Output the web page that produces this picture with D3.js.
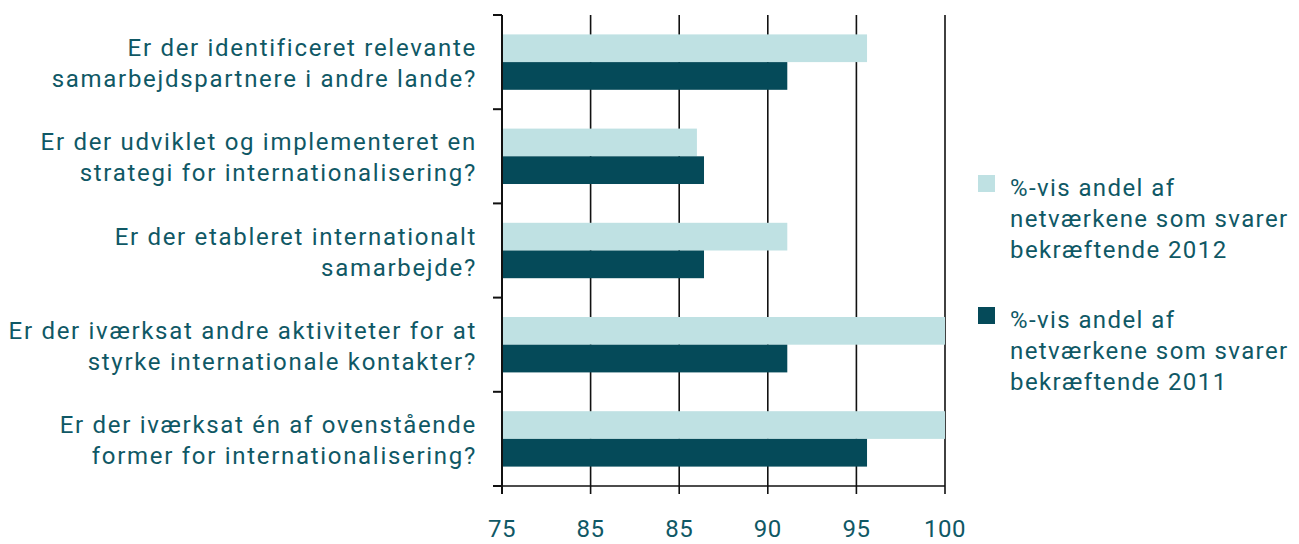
<!DOCTYPE html>
<html><head><meta charset="utf-8">
<script src="https://cdn.jsdelivr.net/npm/d3@7/dist/d3.min.js"></script>
<style>body{margin:0;background:#fff}svg{display:block}</style>
</head><body>
<svg id="c" width="1299" height="544"></svg>
<script>
const categories = [
  ["Er der identificeret relevante", "samarbejdspartnere i andre lande?"],
  ["Er der udviklet og implementeret en", "strategi for internationalisering?"],
  ["Er der etableret internationalt", "samarbejde?"],
  ["Er der iværksat andre aktiviteter for at", "styrke internationale kontakter?"],
  ["Er der iværksat én af ovenstående", "former for internationalisering?"]
];
const values2012 = [95.6, 86.0, 91.1, 100, 100];
const values2011 = [91.1, 86.4, 86.4, 91.1, 95.6];
const tickValues = [75, 80, 85, 90, 95, 100];
const tickLabels = ["75", "85", "85", "90", "95", "100"];
const seriesNames = [
  ["%-vis andel af", "netværkene som svarer", "bekræftende 2012"],
  ["%-vis andel af", "netværkene som svarer", "bekræftende 2011"]
];
const colors = ["#bfe1e3", "#054a59"];
const textColor = "#0f5865";
const font = "Roboto, 'DejaVu Sans', sans-serif";
const fs = 24, ls = 1.7;

const svg = d3.select("#c");
const x = d3.scaleLinear().domain([75, 100]).range([502, 945]);
const y = d3.scaleBand().domain(d3.range(categories.length)).range([15, 486]);
const inner = d3.scaleBand().domain([0, 1]).range([0, y.bandwidth()]).paddingOuter(0.7).paddingInner(0);

// vertical gridlines
svg.append("g").selectAll("line").data(tickValues.slice(1)).join("line")
  .attr("x1", d => x(d)).attr("x2", d => x(d))
  .attr("y1", 15).attr("y2", 494)
  .attr("stroke", "#111").attr("stroke-width", 1.6);

// bars
const series = [values2012, values2011];
const g = svg.append("g");
series.forEach((vals, si) => {
  g.selectAll(".b" + si).data(vals).join("rect")
    .attr("x", x(75) + 1)
    .attr("y", (d, i) => y(i) + inner(si))
    .attr("width", d => x(d) - x(75) - 1)
    .attr("height", inner.bandwidth())
    .attr("fill", colors[si]);
});

// y axis line and ticks
svg.append("line").attr("x1", x(75)).attr("x2", x(75)).attr("y1", 15).attr("y2", 494)
  .attr("stroke", "#111").attr("stroke-width", 2);
svg.append("g").selectAll("line").data(d3.range(categories.length + 1)).join("line")
  .attr("x1", 493).attr("x2", x(75))
  .attr("y1", i => i < categories.length ? y(i) : 486)
  .attr("y2", i => i < categories.length ? y(i) : 486)
  .attr("stroke", "#111").attr("stroke-width", 2);
// x axis line
svg.append("line").attr("x1", 493).attr("x2", x(100)).attr("y1", 486).attr("y2", 486)
  .attr("stroke", "#111").attr("stroke-width", 1.6);

// tick labels
svg.append("g").selectAll("text").data(tickValues).join("text")
  .attr("x", d => x(d)).attr("y", 537)
  .attr("text-anchor", "middle")
  .attr("font-family", font).attr("font-size", fs).attr("letter-spacing", 0.5).attr("fill", textColor)
  .text((d, i) => tickLabels[i]);

// category labels
const lab = svg.append("g").selectAll("text").data(categories).join("text")
  .attr("text-anchor", "end")
  .attr("font-family", font).attr("font-size", fs).attr("letter-spacing", ls).attr("fill", textColor);
lab.each(function(lines, i) {
  const cy = y(i) + y.bandwidth() / 2;
  d3.select(this).selectAll("tspan").data(lines).join("tspan")
    .attr("x", 477)
    .attr("y", (d, j) => cy - 6 + j * 31)
    .text(d => d);
});

// legend
const legY = [175, 307];
seriesNames.forEach((lines, si) => {
  svg.append("rect").attr("x", 978).attr("y", legY[si]).attr("width", 17).attr("height", 17)
    .attr("fill", colors[si]);
  svg.append("text").attr("font-family", font).attr("font-size", fs).attr("letter-spacing", 1.4).attr("fill", textColor)
    .selectAll("tspan").data(lines).join("tspan")
    .attr("x", 1010).attr("y", (d, j) => legY[si] + 21 + j * 31)
    .text(d => d);
});
</script>
</body></html>
